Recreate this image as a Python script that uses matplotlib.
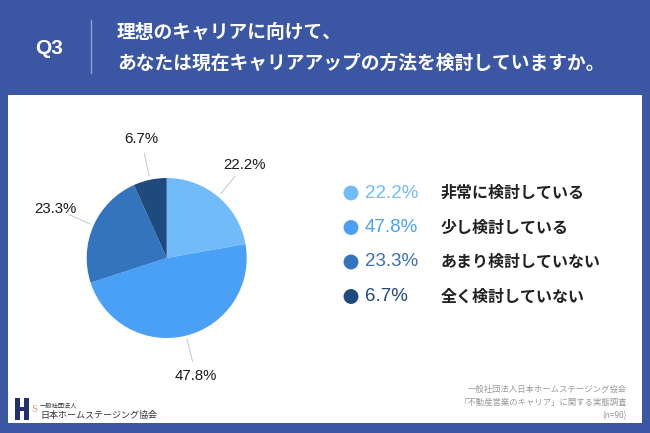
import numpy as np
import matplotlib.pyplot as plt
from matplotlib.patches import Rectangle

plt.rcParams['font.family'] = ['Noto Sans CJK JP', 'DejaVu Sans']

# data
labels = ['非常に検討している', '少し検討している', 'あまり検討していない', '全く検討していない']
values = [22.2, 47.8, 23.3, 6.7]
colors = ['#71bcf8', '#4aa0f5', '#3474be', '#1f4a7e']
pct_colors = ['#71bcf8', '#4aa0f5', '#3a70b5', '#1f4a7e']
title_lines = ['理想のキャリアに向けて、', 'あなたは現在キャリアアップの方法を検討していますか。']
source_lines = ['一般社団法人日本ホームステージング協会', '「不動産営業のキャリア」に関する実態調査', '(n=90)']

W, H = 650, 433
fig = plt.figure(figsize=(W / 100, H / 100), dpi=100)
fig.patch.set_facecolor('#3b56a3')

# background axes in pixel coords
bg = fig.add_axes([0, 0, 1, 1])
bg.set_xlim(0, W)
bg.set_ylim(H, 0)
bg.set_axis_off()
bg.add_patch(Rectangle((8, 95), 634, 328, facecolor='white', edgecolor='none'))

# header
bg.text(49, 48, 'Q3', color='white', fontsize=15, fontweight='bold', ha='center', va='center',
        family=['Liberation Sans', 'DejaVu Sans'])
bg.plot([91, 91], [20, 73], color='#8fa0cf', lw=1)
bg.text(117, 32, title_lines[0], color='white', fontsize=13.5, fontweight='bold', va='center')
bg.text(117, 63, title_lines[1], color='white', fontsize=13.5, fontweight='bold', va='center')

# pie
cx, cy, r = 166.7, 258, 80
pax = fig.add_axes([(cx - r) / W, 1 - (cy + r) / H, 2 * r / W, 2 * r / H])
wedges, _ = pax.pie(values, colors=colors, startangle=90, counterclock=False, radius=1,
                    wedgeprops=dict(linewidth=0))
pax.set_xlim(-1, 1)
pax.set_ylim(-1, 1)
pax.set_aspect('auto')
pax.set_axis_off()

for w, v in zip(wedges, values):
    ang = np.deg2rad((w.theta1 + w.theta2) / 2)
    dx, dy = np.cos(ang), -np.sin(ang)
    bg.plot([cx + 1.05 * r * dx, cx + 1.33 * r * dx], [cy + 1.05 * r * dy, cy + 1.33 * r * dy],
            color='#cccccc', lw=0.8)
    bg.text(cx + 1.52 * r * dx, cy + 1.52 * r * dy, f'{v}%', fontsize=10.8, ha='center', va='center',
            color='#1a1a1a', family=['Liberation Sans', 'DejaVu Sans'])

# legend
for i, (lab, v) in enumerate(zip(labels, values)):
    y = 193 + i * 34.5
    bg.scatter([351], [y], s=115, color=colors[i], edgecolors='none')
    bg.text(365, y, f'{v}%', fontsize=13.5, color=pct_colors[i], va='center',
            family=['Liberation Sans', 'DejaVu Sans'])
    bg.text(441, y, lab, fontsize=11.5, fontweight='bold', color='#222222', va='center')

# source
for i, s in enumerate(source_lines):
    bg.text(627, 389 + i * 13.5, s, fontsize=6, color='#999999', ha='right', va='center')

# logo
bg.add_patch(Rectangle((15, 398), 5, 22, facecolor='#23306b', edgecolor='none'))
bg.add_patch(Rectangle((24, 398), 5, 22, facecolor='#23306b', edgecolor='none'))
bg.add_patch(Rectangle((19, 407), 6, 4, facecolor='#23306b', edgecolor='none'))
bg.text(31, 410, 'S', fontsize=8, color='#c9a86a', va='center', family=['Liberation Serif', 'DejaVu Serif'])
bg.text(40, 405, '一般社団法人', fontsize=4.5, color='#333333', va='center')
bg.text(40, 415, '日本ホームステージング協会', fontsize=6.5, color='#333333', va='center')

fig.savefig('out.png', dpi=100, facecolor=fig.get_facecolor())
